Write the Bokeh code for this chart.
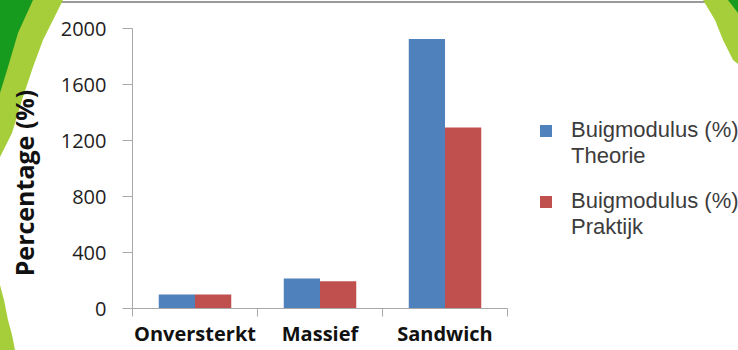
from urllib.parse import quote

import numpy as np
from bokeh.layouts import row
from bokeh.plotting import figure
from bokeh.models import (ColumnDataSource, Range1d, FixedTicker, LinearAxis,
                          Legend, LegendItem, Label)
from bokeh.transform import dodge
from bokeh.embed import file_html
from bokeh.resources import INLINE

# --- data -------------------------------------------------------------
categories = ["Onversterkt", "Massief", "Sandwich"]
theorie = [100, 215, 1925]
praktijk = [100, 195, 1293]
y_ticks = [0, 400, 800, 1200, 1600, 2000]
series_label = "Buigmodulus (%)"
series_kind = ["Theorie", "Praktijk"]

BLUE = "#4f81bd"
RED = "#c0504d"
GRID = "#a8a8a8"
DARK_GREEN = "#179b1f"
LIGHT_GREEN = "#a6cd3a"

W, H = 738, 350
MAIN_W = 510

# slide decoration (thin border line and green swooshes) behind the chart
deco_svg = (
    f"<svg xmlns='http://www.w3.org/2000/svg' width='{W}' height='{H}'>"
    f"<rect x='0' y='1' width='{W}' height='2' fill='#9a9a9a'/>"
    f"<polygon points='0,0 63,0 53,20 43,40 33,67 22,100 12,133 0,157' fill='{LIGHT_GREEN}'/>"
    f"<polygon points='0,0 33,0 18,33 8,67 0,93' fill='{DARK_GREEN}'/>"
    f"<polygon points='0,285 4,300 8,320 12,335 15,350 0,350' fill='{LIGHT_GREEN}'/>"
    f"<polygon points='703,0 715,20 723,40 733,60 738,64 738,0' fill='{LIGHT_GREEN}'/>"
    f"<polygon points='728,0 738,0 738,13' fill='{DARK_GREEN}'/>"
    "</svg>"
)

centers = np.arange(len(categories)) + 0.5
src = ColumnDataSource(dict(x=centers, theorie=theorie, praktijk=praktijk))

# --- bar chart --------------------------------------------------------
p = figure(width=MAIN_W, height=H, output_backend="svg", toolbar_location=None,
           x_range=Range1d(0, len(categories)), y_range=Range1d(0, 2000),
           x_axis_type=None, y_axis_type=None,
           min_border_left=132, min_border_right=3,
           min_border_top=28, min_border_bottom=42)
p.outline_line_color = None
p.background_fill_color = "white"
p.border_fill_color = None

bar_w = 0.29
p.vbar(x=dodge("x", -bar_w / 2, range=p.x_range), top="theorie", width=bar_w,
       source=src, fill_color=BLUE, line_color=None)
p.vbar(x=dodge("x", bar_w / 2, range=p.x_range), top="praktijk", width=bar_w,
       source=src, fill_color=RED, line_color=None)

# y axis
yaxis = LinearAxis(ticker=FixedTicker(ticks=y_ticks, minor_ticks=[]))
yaxis.axis_line_color = GRID
yaxis.major_tick_line_color = GRID
yaxis.major_tick_out = 10
yaxis.major_tick_in = 0
yaxis.major_label_standoff = 16
yaxis.major_label_text_font = "Open Sans"
yaxis.major_label_text_font_size = "20px"
yaxis.major_label_text_color = "#1e1e1e"
p.add_layout(yaxis, "left")

# axis title
p.add_layout(Label(x=23, y=182.5, x_units="canvas", y_units="canvas",
                   text="Percentage (%)", angle=np.pi / 2,
                   text_align="center", text_baseline="middle",
                   text_font="Open Sans", text_font_style="bold",
                   text_font_size="25px", text_color="#111111"), "left")

# x axis: labels at category centres, ticks at category boundaries
xaxis = LinearAxis(ticker=FixedTicker(ticks=list(centers),
                                      minor_ticks=list(range(len(categories) + 1))))
xaxis.major_label_overrides = {float(c): name for c, name in zip(centers, categories)}
xaxis.axis_line_color = GRID
xaxis.major_tick_out = 0
xaxis.major_tick_in = 0
xaxis.minor_tick_line_color = GRID
xaxis.minor_tick_out = 8
xaxis.minor_tick_in = 0
xaxis.major_label_standoff = 3
xaxis.major_label_text_line_height = 0.75
xaxis.major_label_text_font = "Open Sans"
xaxis.major_label_text_font_style = "bold"
xaxis.major_label_text_font_size = "20px"
xaxis.major_label_text_color = "#111111"
p.add_layout(xaxis, "below")

p.ygrid.ticker = FixedTicker(ticks=y_ticks)
p.ygrid.grid_line_color = GRID
p.xgrid.grid_line_color = None

# --- legend panel -----------------------------------------------------
pl = figure(width=W - MAIN_W, height=H, output_backend="svg", toolbar_location=None,
            x_range=Range1d(0, 1), y_range=Range1d(0, 1),
            x_axis_type=None, y_axis_type=None, min_border=0)
pl.outline_line_color = None
pl.background_fill_color = None
pl.border_fill_color = None
pl.grid.visible = False

# legend keys: one off-screen swatch per series, plus a blank key for the
# second line of each entry
key_src = ColumnDataSource(dict(x=[-1.0], top=[-1.0]))
key_t = pl.vbar(x="x", top="top", width=0.1, source=key_src,
                fill_color=BLUE, line_color=None)
key_p = pl.vbar(x="x", top="top", width=0.1, source=key_src,
                fill_color=RED, line_color=None)
key_blank = pl.vbar(x="x", top="top", width=0.1, source=key_src,
                    fill_alpha=0, line_alpha=0)

legend_style = dict(orientation="vertical", glyph_width=15, glyph_height=15,
                    label_standoff=18, label_height=25, spacing=0, padding=0,
                    margin=0, border_line_alpha=0, background_fill_alpha=0,
                    label_text_font="Liberation Sans", label_text_font_size="22px",
                    label_text_color="#3c3c3c")
for key, kind, loc in [(key_t, series_kind[0], (28, 139)),
                       (key_p, series_kind[1], (28, 68))]:
    pl.add_layout(Legend(items=[LegendItem(label=series_label, renderers=[key]),
                                LegendItem(label=kind, renderers=[key_blank])],
                         location=loc, **legend_style))

layout = row(p, pl, spacing=0)
layout.styles = {
    "background-color": "white",
    "background-image": f'url("data:image/svg+xml;utf8,{quote(deco_svg)}")',
    "background-repeat": "no-repeat",
}

open("out.html", "w").write(file_html(layout, INLINE))
